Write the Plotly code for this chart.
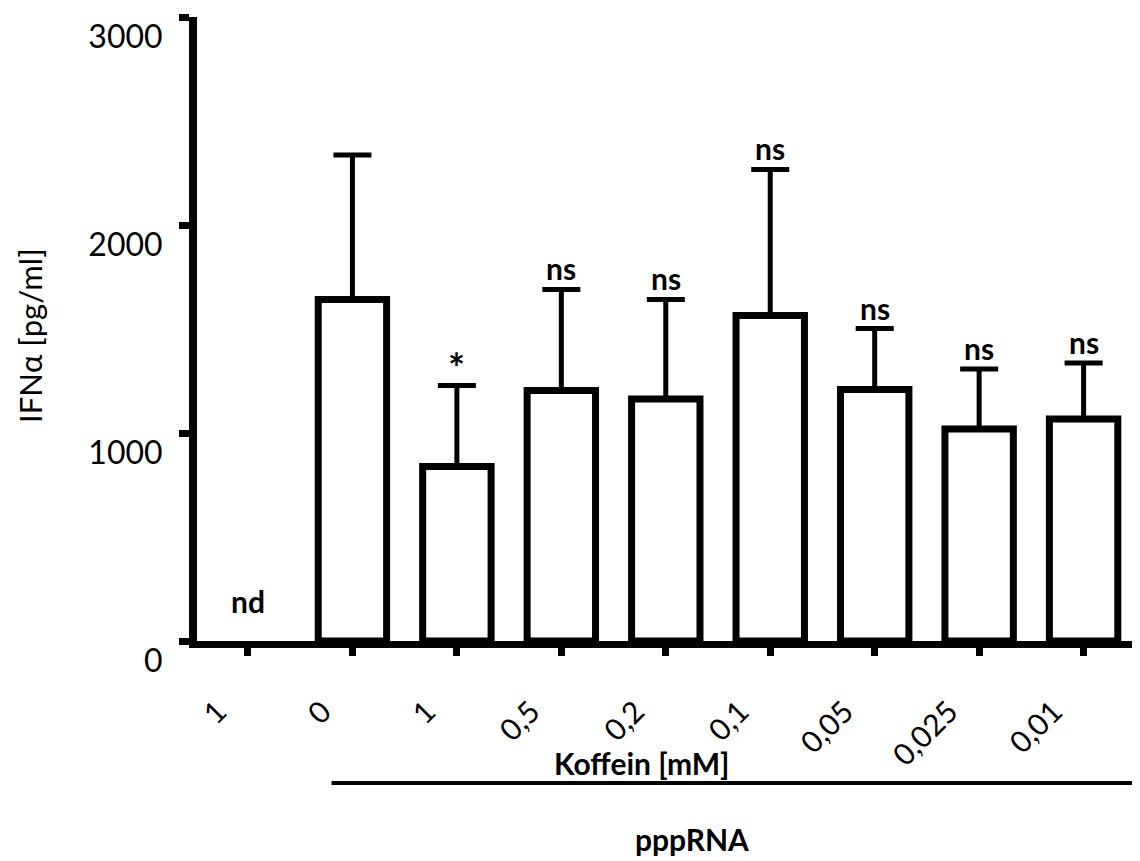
import plotly.graph_objects as go

categories = ["1", "0", "1", "0,5", "0,2", "0,1", "0,05", "0,025", "0,01"]
values = [None, 1642, 839, 1204, 1163, 1565, 1209, 1019, 1067]
err_tops = [None, 2337, 1228, 1690, 1642, 2267, 1502, 1308, 1337]
labels = ["nd", "", "*", "ns", "ns", "ns", "ns", "ns", "ns"]
y_ticks = [0, 1000, 2000, 3000]

xs = list(range(len(categories)))
err_plus = [(e - v) if (e is not None and v is not None) else 0 for e, v in zip(err_tops, values)]

FONT = "Lato"

fig = go.Figure()
fig.add_trace(go.Bar(
    x=xs, y=values, width=0.655,
    marker=dict(color="white", line=dict(color="black", width=7)),
    error_y=dict(type="data", symmetric=False, array=err_plus,
                 arrayminus=[0] * len(xs), color="black", thickness=5, width=19),
))

for i, lab in enumerate(labels):
    if not lab:
        continue
    if lab == "nd":
        fig.add_annotation(x=xs[i], y=0, text="<b>nd</b>", showarrow=False,
                           yanchor="bottom", yshift=20, font=dict(family=FONT, size=30, color="black"))
    elif lab == "*":
        fig.add_annotation(x=xs[i], y=err_tops[i], text="<b>*</b>", showarrow=False,
                           yanchor="bottom", yshift=-8, font=dict(family=FONT, size=40, color="black"))
    else:
        fig.add_annotation(x=xs[i], y=err_tops[i], text="<b>%s</b>" % lab, showarrow=False,
                           yanchor="bottom", yshift=1, font=dict(family=FONT, size=30, color="black"))

fig.add_annotation(xref="paper", yref="paper", x=-0.177, y=0.489, xanchor="center", yanchor="middle",
                   text="IFNα [pg/ml]", textangle=-90, showarrow=False,
                   font=dict(family=FONT, size=31, color="black"))
fig.add_annotation(x=3.77, yref="paper", y=-0.195, yanchor="middle", text="<b>Koffein [mM]</b>",
                   showarrow=False, font=dict(family=FONT, size=30, color="black"))
fig.add_annotation(x=4.25, yref="paper", y=-0.318, yanchor="middle", text="<b>pppRNA</b>",
                   showarrow=False, font=dict(family=FONT, size=30, color="black"))
fig.add_shape(type="line", xref="x", yref="paper", x0=0.8, x1=8.7, y0=-0.2276, y1=-0.2276,
              line=dict(color="black", width=4))

# page body has an 8px margin, so the figure is offset by 8px; margins compensate
fig.update_layout(
    width=1140, height=861,
    margin=dict(l=189, r=8, t=9, b=228),
    plot_bgcolor="white", paper_bgcolor="white",
    showlegend=False,
    font=dict(family=FONT, color="black"),
    xaxis=dict(range=[-0.488, 8.54], tickvals=xs, ticktext=categories, automargin=False,
               tickangle=-45, ticks="outside", ticklen=8, tickwidth=7, tickcolor="black",
               showline=True, linecolor="black", linewidth=7, showgrid=False, zeroline=False,
               tickfont=dict(family=FONT, size=30, color="black"), ticklabelstandoff=26,
               ticklabelshift=-30, ticklabeloverflow="allow"),
    yaxis=dict(range=[0, 3000], tickvals=y_ticks, ticks="outside", ticklen=10, tickwidth=7,
               automargin=False, ticklabeloverflow="allow",
               tickcolor="black", showline=True, linecolor="black", linewidth=8,
               showgrid=False, zeroline=False, ticklabelshift=20, ticklabelstandoff=10,
               tickfont=dict(family=FONT, size=32, color="black")),
)

fig.write_html("out.html")
